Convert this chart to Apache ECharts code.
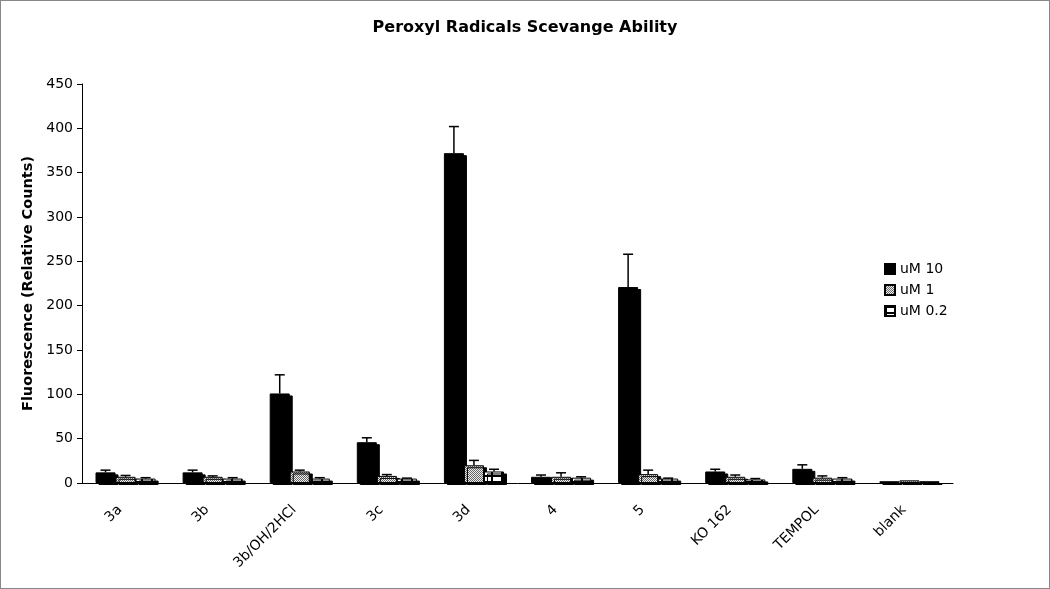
<!DOCTYPE html>
<html>
<head>
<meta charset="utf-8">
<script src="https://cdn.jsdelivr.net/npm/echarts@6/dist/echarts.min.js"></script>
<style>
  html, body { margin: 0; padding: 0; background: #fff; }
  #chart { width: 1050px; height: 589px; box-sizing: border-box; border: 1px solid #888; }
</style>
</head>
<body>
<div id="chart"></div>
<script>
// 数据
const categories = ['3a', '3b', '3b/OH/2HCl', '3c', '3d', '4', '5', 'KO 162', 'TEMPOL', 'blank']
const seriesNames = ['uM 10', 'uM 1', 'uM 0.2']
const values10 = [12, 12, 101, 46, 372, 7, 221, 13, 16, 2]
const values1 = [7, 7, 13, 8, 20, 7, 10, 7, 6, 3]
const values02 = [5, 5, 5, 5, 13, 6, 5, 4, 5, 2]
const errors10 = [2.5, 2.5, 21, 5, 30, 2, 37, 2.5, 4.5, 0]
const errors1 = [1.5, 1, 1.5, 1.5, 5.5, 4.5, 4.5, 2, 2, 0]
const errors02 = [1, 1, 1, 0.5, 2.5, 1, 0.5, 1, 1, 0]
const yTicks = { min: 0, max: 450, interval: 50 }

const CAT_GAP = 0.31

// 图案填充
function makeChecker () {
  const c = document.createElement('canvas')
  c.width = 2; c.height = 2
  const ctx = c.getContext('2d')
  ctx.fillStyle = '#f0f0f0'
  ctx.fillRect(0, 0, 2, 2)
  ctx.fillStyle = '#666666'
  ctx.fillRect(0, 0, 1, 1)
  ctx.fillRect(1, 1, 1, 1)
  return c
}
function makeGrid () {
  const c = document.createElement('canvas')
  c.width = 10; c.height = 6
  const ctx = c.getContext('2d')
  ctx.fillStyle = '#ffffff'
  ctx.fillRect(0, 0, 10, 6)
  ctx.fillStyle = '#000000'
  ctx.fillRect(0, 0, 10, 2)
  ctx.fillRect(0, 0, 2, 6)
  return c
}

const fills = [
  '#000000',
  { image: makeChecker(), repeat: 'repeat' },
  { image: makeGrid(), repeat: 'repeat' }
]
const allValues = [values10, values1, values02]
const allErrors = [errors10, errors1, errors02]

const chartInstance = echarts.init(document.getElementById('chart'))

const barSeries = seriesNames.map((name, i) => ({
  name: name,
  type: 'bar',
  data: allValues[i],
  barGap: '0%',
  barCategoryGap: (CAT_GAP * 100) + '%',
  itemStyle: {
    color: fills[i],
    borderColor: '#000',
    borderWidth: 1,
    shadowColor: '#000',
    shadowOffsetX: 3,
    shadowOffsetY: 2,
    shadowBlur: 0
  },
  z: 2 + i
}))

// 误差线
const errSeries = seriesNames.map((name, i) => ({
  type: 'custom',
  name: name + ' err',
  data: allValues[i].map((v, k) => [k, v, allErrors[i][k]]),
  encode: { x: 0, y: 1 },
  z: 10,
  silent: true,
  renderItem: (params, api) => {
    const v = api.value(1)
    const e = api.value(2)
    if (!e) return null
    const bandW = api.size([1, 0])[0]
    const barW = bandW * (1 - CAT_GAP) / 3
    const off = (i - 1) * barW
    const base = api.coord([api.value(0), v])
    const top = api.coord([api.value(0), v + e])
    const x = base[0] + off
    return {
      type: 'group',
      children: [
        { type: 'line', shape: { x1: x, y1: base[1], x2: x, y2: top[1] }, style: { stroke: '#000', lineWidth: 1.5 } },
        { type: 'line', shape: { x1: x - 5, y1: top[1], x2: x + 5, y2: top[1] }, style: { stroke: '#000', lineWidth: 1.5 } }
      ]
    }
  }
}))

const option = {
  animation: false,
  textStyle: { fontFamily: 'DejaVu Sans' },
  title: {
    text: 'Peroxyl Radicals Scevange Ability',
    left: 'center',
    top: 14,
    textStyle: { fontSize: 16, fontWeight: 'bold', color: '#000', fontFamily: 'DejaVu Sans' }
  },
  legend: {
    data: seriesNames,
    orient: 'vertical',
    left: 878,
    top: 256,
    icon: 'rect',
    itemWidth: 10,
    itemHeight: 10,
    itemGap: 7,
    textStyle: { fontSize: 14, color: '#000', fontFamily: 'DejaVu Sans' }
  },
  grid: { left: 81, right: 96, top: 83, bottom: 105 },
  xAxis: {
    type: 'category',
    data: categories,
    axisLine: { lineStyle: { color: '#000', width: 1 } },
    axisTick: { length: 5, lineStyle: { color: '#000' } },
    axisLabel: { rotate: 45, margin: 19, padding: [0, 8, 0, 0], fontSize: 14, color: '#000', fontFamily: 'DejaVu Sans' }
  },
  yAxis: {
    type: 'value',
    min: yTicks.min,
    max: yTicks.max,
    interval: yTicks.interval,
    name: 'Fluorescence (Relative Counts)',
    nameLocation: 'middle',
    nameGap: 46,
    nameTextStyle: { fontSize: 14.5, fontWeight: 'bold', color: '#000', fontFamily: 'DejaVu Sans' },
    splitLine: { show: false },
    axisLine: { show: true, lineStyle: { color: '#000', width: 1 } },
    axisTick: { show: true, length: 5, lineStyle: { color: '#000' } },
    axisLabel: { fontSize: 14, color: '#000', margin: 9, fontFamily: 'DejaVu Sans' }
  },
  series: [...barSeries, ...errSeries]
}
chartInstance.setOption(option)
</script>
</body>
</html>
